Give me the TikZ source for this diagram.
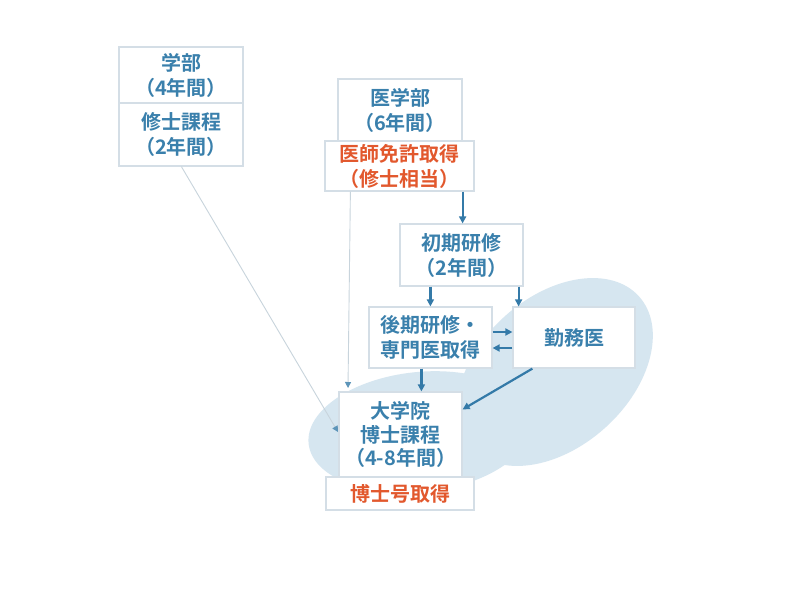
\documentclass[tikz,border=0pt]{standalone}
\usepackage{fontspec}
\newfontfamily\jp{Noto Sans CJK JP Bold}
\usetikzlibrary{arrows.meta,calc}
\definecolor{txtblue}{RGB}{58,128,172}
\definecolor{txtred}{RGB}{226,88,45}
\definecolor{arrblue}{RGB}{52,122,168}
\definecolor{boxline}{RGB}{212,222,230}
\definecolor{blob}{RGB}{214,230,240}
\definecolor{thin}{RGB}{200,212,220}
\begin{document}
\begin{tikzpicture}[x=1pt,y=-1pt,
  box/.style={draw=boxline,line width=1.2pt,fill=white,align=center,inner sep=0pt,
    font=\jp\fontsize{20}{25}\selectfont,text=txtblue},
  redbox/.style={box,text=txtred},
  arr/.style={draw=arrblue,line width=2.2pt,-{Triangle[length=7pt,width=7pt]}},
  thinarr/.style={draw=thin,line width=0.9pt,-{Triangle[length=6pt,width=6pt,color=arrblue!80]}}]
\useasboundingbox (0,0) rectangle (800,600);
\fill[white] (0,0) rectangle (800,600);
% blobs
\fill[blob] (555,372) ellipse[x radius=113,y radius=75,rotate=42];
\fill[blob] (420,432) ellipse[x radius=112,y radius=60,rotate=6];
% nodes
\node[box,minimum width=124,minimum height=56] (gakubu) at (181,75) {学部\\（4年間）};
\node[box,minimum width=124,minimum height=63] (shushi) at (181,134.5) {修士課程\\（2年間）};
\node[box,minimum width=124,minimum height=62] (igakubu) at (400,110) {医学部\\（6年間）};
\node[redbox,minimum width=149,minimum height=50] (ishi) at (399.5,166) {医師免許取得\\（修士相当）};
\node[box,minimum width=123,minimum height=62] (shoki) at (461.5,255) {初期研修\\（2年間）};
\node[box,minimum width=123,minimum height=61] (koki) at (430.5,337.5) {後期研修・\\専門医取得};
\node[box,minimum width=122,minimum height=61] (kinmu) at (574,337.5) {勤務医};
\node[box,minimum width=123,minimum height=85,font=\jp\fontsize{20}{23.5}\selectfont] (daigakuin) at (400.5,434.5) {大学院\\博士課程\\（4-8年間）};
\node[redbox,minimum width=148,minimum height=33] (hakase) at (400,493.5) {博士号取得};
% thin connectors
\coordinate (t1) at (338,432);
\draw[thinarr] ([xshift=63pt]shushi.south west) -- (t1);
\coordinate (t2) at (348,388);
\draw[thinarr] ([xshift=26pt]ishi.south west) -- (t2);
% blue arrows
\draw[arr] ([xshift=-12pt]ishi.south east) -- ([xshift=-12pt]ishi.south east |- shoki.north);
\draw[arr] ([xshift=31pt]shoki.south west) -- ([xshift=31pt]shoki.south west |- koki.north);
\draw[arr] ([xshift=-5pt]shoki.south east) -- ([xshift=-5pt]shoki.south east |- kinmu.north);
\draw[arr] ([yshift=5.5pt]koki.east) -- ([yshift=5.5pt]kinmu.west);
\draw[arr] ([yshift=-10.5pt]kinmu.west) -- ([yshift=-10.5pt]koki.east);
\draw[arr] ([xshift=53pt]koki.south west) -- ([xshift=53pt]koki.south west |- daigakuin.north);
\draw[arr] ([xshift=20pt]kinmu.south west) -- ([yshift=-18pt]daigakuin.north east);
\end{tikzpicture}
\end{document}
